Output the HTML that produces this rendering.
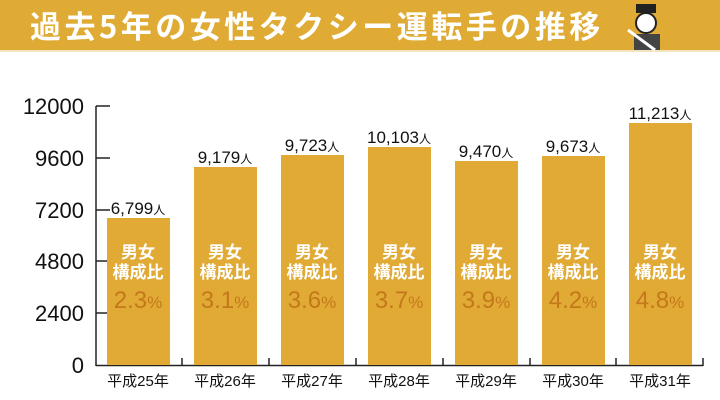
<!DOCTYPE html>
<html><head><meta charset="utf-8"><style>
body{margin:0;width:720px;height:400px;background:#fff;overflow:hidden}
svg{display:block}
</style></head><body>
<svg width="720" height="400" xmlns="http://www.w3.org/2000/svg" font-family="Liberation Sans, 'Noto Sans CJK JP', sans-serif">
<rect x="0" y="0" width="720" height="50" fill="#dfab35"/>
<rect x="0" y="50" width="720" height="2" fill="#f3e4c0"/>
<text x="30" y="38" font-size="31" font-weight="bold" fill="#fff" letter-spacing="3.5" font-family="'Noto Sans CJK JP', sans-serif">過去5年の女性タクシー運転手の推移</text>
<g>
<rect x="636" y="4" width="20" height="9" fill="#222"/>
<circle cx="646" cy="23" r="10" fill="#fff" stroke="#222" stroke-width="2"/>
<rect x="634" y="34" width="26" height="16" fill="#444"/>
<line x1="628" y1="30" x2="655" y2="50" stroke="#fff" stroke-width="3"/>
</g>
<g stroke="#222" stroke-width="1.5" fill="none">
<line x1="96" y1="106" x2="96" y2="366"/>
<line x1="96" y1="365.5" x2="703" y2="365.5"/>
<line x1="96" y1="106" x2="110" y2="106"/>
<line x1="96" y1="158" x2="110" y2="158"/>
<line x1="96" y1="210" x2="110" y2="210"/>
<line x1="96" y1="261" x2="110" y2="261"/>
<line x1="96" y1="313" x2="110" y2="313"/>
<line x1="182" y1="358" x2="182" y2="366"/><line x1="269" y1="358" x2="269" y2="366"/><line x1="356" y1="358" x2="356" y2="366"/><line x1="443" y1="358" x2="443" y2="366"/><line x1="530" y1="358" x2="530" y2="366"/><line x1="616" y1="358" x2="616" y2="366"/><line x1="703" y1="358" x2="703" y2="366"/>
</g>
<g font-size="22" fill="#111" text-anchor="end">
<text x="84" y="114">12000</text><text x="84" y="166">9600</text><text x="84" y="218">7200</text><text x="84" y="269">4800</text><text x="84" y="321">2400</text><text x="84" y="373">0</text>
</g>
<g fill="#e0aa35">
<rect x="107" y="218" width="63" height="147"/>
<rect x="194" y="167" width="63" height="198"/>
<rect x="281" y="155" width="63" height="210"/>
<rect x="368" y="147" width="63" height="218"/>
<rect x="455" y="161" width="63" height="204"/>
<rect x="542" y="156" width="63" height="209"/>
<rect x="629" y="123" width="63" height="242"/>
</g>
<g font-size="17" fill="#111" text-anchor="middle">
<text x="138" y="214">6,799<tspan font-size="12">人</tspan></text>
<text x="225" y="163">9,179<tspan font-size="12">人</tspan></text>
<text x="312" y="151">9,723<tspan font-size="12">人</tspan></text>
<text x="399" y="143">10,103<tspan font-size="12">人</tspan></text>
<text x="486" y="157">9,470<tspan font-size="12">人</tspan></text>
<text x="573" y="152">9,673<tspan font-size="12">人</tspan></text>
<text x="660" y="119">11,213<tspan font-size="12">人</tspan></text>
</g>
<g font-size="15" fill="#111" text-anchor="middle">
<text x="138" y="386">平成25年</text><text x="225" y="386">平成26年</text><text x="312" y="386">平成27年</text><text x="399" y="386">平成28年</text><text x="486" y="386">平成29年</text><text x="573" y="386">平成30年</text><text x="660" y="386">平成31年</text>
</g>
<g font-size="17" font-weight="bold" fill="#fff" text-anchor="middle" font-family="'Noto Sans CJK JP', sans-serif">
<text x="138" y="258">男女</text><text x="138" y="278">構成比</text>
<text x="225" y="258">男女</text><text x="225" y="278">構成比</text>
<text x="312" y="258">男女</text><text x="312" y="278">構成比</text>
<text x="399" y="258">男女</text><text x="399" y="278">構成比</text>
<text x="486" y="258">男女</text><text x="486" y="278">構成比</text>
<text x="573" y="258">男女</text><text x="573" y="278">構成比</text>
<text x="660" y="258">男女</text><text x="660" y="278">構成比</text>
</g>
<g font-size="24" fill="#c4781a" text-anchor="middle">
<text x="138" y="308">2.3<tspan font-size="17">%</tspan></text>
<text x="225" y="308">3.1<tspan font-size="17">%</tspan></text>
<text x="312" y="308">3.6<tspan font-size="17">%</tspan></text>
<text x="399" y="308">3.7<tspan font-size="17">%</tspan></text>
<text x="486" y="308">3.9<tspan font-size="17">%</tspan></text>
<text x="573" y="308">4.2<tspan font-size="17">%</tspan></text>
<text x="660" y="308">4.8<tspan font-size="17">%</tspan></text>
</g>
</svg>
</body></html>
